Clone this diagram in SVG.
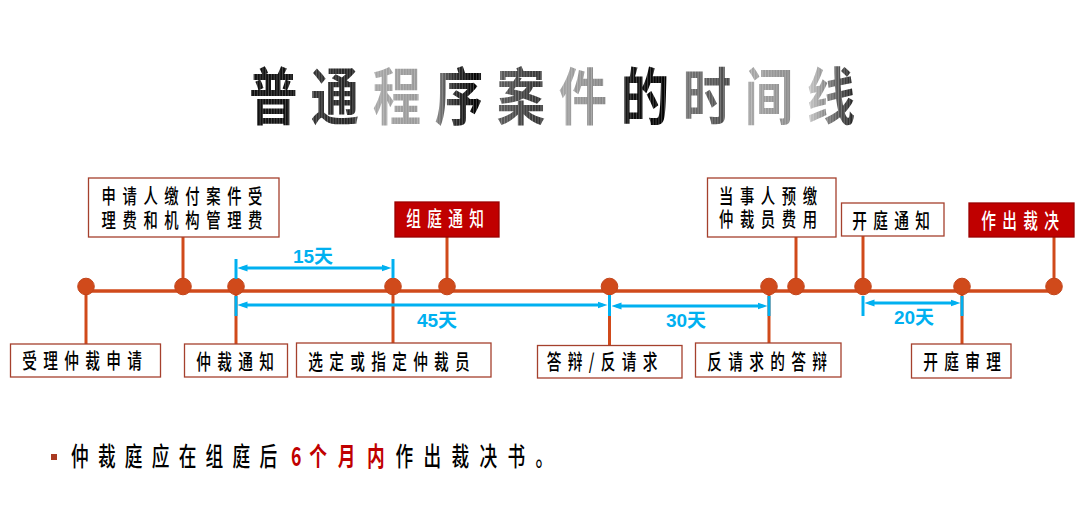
<svg xmlns="http://www.w3.org/2000/svg" width="1090" height="530" viewBox="0 0 1090 530">
<defs>
<linearGradient id="tg" x1="0" y1="0" x2="1" y2="0">
<stop offset="0" stop-color="#111"/><stop offset="0.1" stop-color="#111"/>
<stop offset="0.12" stop-color="#333"/><stop offset="0.18" stop-color="#222"/>
<stop offset="0.2" stop-color="#aaa"/><stop offset="0.28" stop-color="#999"/>
<stop offset="0.3" stop-color="#bbb"/><stop offset="0.34" stop-color="#333"/>
<stop offset="0.38" stop-color="#000"/><stop offset="0.4" stop-color="#666"/>
<stop offset="0.48" stop-color="#333"/><stop offset="0.5" stop-color="#aaa"/>
<stop offset="0.58" stop-color="#888"/><stop offset="0.6" stop-color="#999"/>
<stop offset="0.62" stop-color="#111"/><stop offset="0.69" stop-color="#000"/>
<stop offset="0.71" stop-color="#777"/><stop offset="0.79" stop-color="#444"/>
<stop offset="0.81" stop-color="#aaa"/><stop offset="0.89" stop-color="#888"/>
<stop offset="0.91" stop-color="#ccc"/><stop offset="0.96" stop-color="#555"/>
<stop offset="1" stop-color="#000"/>
</linearGradient>
<pattern id="st" patternUnits="userSpaceOnUse" width="3.6" height="100">
<rect x="0" y="0" width="1" height="100" fill="#fff" fill-opacity="0.3"/>
</pattern>
<pattern id="tp" patternUnits="userSpaceOnUse" x="-400" y="-80" width="800" height="100">
<rect x="0" y="0" width="800" height="100" fill="url(#tg)"/>
<rect x="0" y="0" width="800" height="100" fill="url(#st)"/>
</pattern>
<marker id="arr" viewBox="0 0 10 10" refX="5" refY="5" markerWidth="10" markerHeight="10" markerUnits="userSpaceOnUse" orient="auto-start-reverse">
<path d="M0,1.5 L10,5 L0,8.5 z" fill="#00B0F0"/>
</marker>
</defs>
<style>
.box{fill:#fff;stroke:#A5402D;stroke-width:1.3}
.rbox{fill:#C00000;stroke:#9A0000;stroke-width:1.3}
.lbl{font-family:"Noto Sans CJK SC","Noto Sans CJK TC",sans-serif;font-size:21px;font-weight:500;fill:#000;text-anchor:middle;letter-spacing:9px}
.lbl2{font-family:"Liberation Sans","Noto Sans CJK SC","Noto Sans CJK TC",sans-serif;font-size:20.5px;font-weight:500;fill:#000;text-anchor:middle;letter-spacing:9.4px}
.wl{fill:#fff}
.stem{stroke:#D04A1B;stroke-width:3;fill:none}
.main{stroke:#D04A1B;stroke-width:3.6;fill:none}
.dot{fill:#D04A1B;stroke:#C2441A;stroke-width:1}
.dim{stroke:#00B0F0;stroke-width:3;fill:none}
.tick{stroke:#00B0F0;stroke-width:3}
.dimt{font-family:"Liberation Sans","Noto Sans CJK SC",sans-serif;font-size:19px;font-weight:bold;fill:#00B0F0;text-anchor:middle}
.title{font-family:"Noto Sans CJK SC","Noto Sans CJK TC",sans-serif;font-size:62px;font-weight:bold;text-anchor:middle;letter-spacing:17.5px;fill:url(#tp)}
.note{font-family:"Noto Sans CJK SC","Noto Sans CJK TC",sans-serif;font-size:26px;font-weight:500;fill:#000}
</style>
<rect width="1090" height="530" fill="#fff"/>

<g id="title">
<text class="title" transform="translate(552,120) scale(0.78,1)" x="8.75" y="0">普通程序案件的时间线</text>
</g>

<g id="connectors">
<line class="main" x1="86" y1="291" x2="1054" y2="291"/>
<line class="stem" x1="86" y1="286.5" x2="86" y2="344"/>
<line class="stem" x1="183" y1="237" x2="183" y2="286.5"/>
<line class="stem" x1="236" y1="286.5" x2="236" y2="344"/>
<line class="stem" x1="393" y1="286.5" x2="393" y2="343"/>
<line class="stem" x1="447" y1="237" x2="447" y2="286.5"/>
<line class="stem" x1="609.5" y1="286.5" x2="609.5" y2="345.5"/>
<line class="stem" x1="769" y1="286.5" x2="769" y2="343"/>
<line class="stem" x1="796" y1="237" x2="796" y2="286.5"/>
<line class="stem" x1="863" y1="236" x2="863" y2="286.5"/>
<line class="stem" x1="962" y1="286.5" x2="962" y2="344"/>
<line class="stem" x1="1054" y1="237" x2="1054" y2="286.5"/>
<circle class="dot" cx="86" cy="286.5" r="8.3"/>
<circle class="dot" cx="183" cy="286.5" r="8.3"/>
<circle class="dot" cx="236" cy="286.5" r="8.3"/>
<circle class="dot" cx="393" cy="286.5" r="8.3"/>
<circle class="dot" cx="447" cy="286.5" r="8.3"/>
<circle class="dot" cx="609.5" cy="286.5" r="8.3"/>
<circle class="dot" cx="769" cy="286.5" r="8.3"/>
<circle class="dot" cx="796" cy="286.5" r="8.3"/>
<circle class="dot" cx="863" cy="286.5" r="8.3"/>
<circle class="dot" cx="962" cy="286.5" r="8.3"/>
<circle class="dot" cx="1054" cy="286.5" r="8.3"/>
</g>

<g id="durations">
<line class="tick" x1="236" y1="259" x2="236" y2="279"/>
<line class="tick" x1="393" y1="259" x2="393" y2="278"/>
<line class="dim" x1="242.5" y1="268" x2="386.5" y2="268" marker-start="url(#arr)" marker-end="url(#arr)"/>
<text class="dimt" x="313" y="263">15天</text>

<line class="tick" x1="236" y1="296" x2="236" y2="316"/>
<line class="tick" x1="609.5" y1="295" x2="609.5" y2="316"/>
<line class="dim" x1="242.5" y1="305" x2="602.5" y2="305" marker-start="url(#arr)" marker-end="url(#arr)"/>
<text class="dimt" x="437" y="327">45天</text>

<line class="tick" x1="769" y1="296" x2="769" y2="316"/>
<line class="dim" x1="616.5" y1="306" x2="762.5" y2="306" marker-start="url(#arr)" marker-end="url(#arr)"/>
<text class="dimt" x="686" y="327">30天</text>

<line class="tick" x1="863" y1="296" x2="863" y2="316"/>
<line class="tick" x1="962" y1="296" x2="962" y2="316"/>
<line class="dim" x1="869.5" y1="303" x2="955.5" y2="303" marker-start="url(#arr)" marker-end="url(#arr)"/>
<text class="dimt" x="914" y="324">20天</text>
</g>

<g id="node-accept">
<rect class="box" x="10.5" y="344" width="150" height="33"/>
<text class="lbl" transform="translate(82,368) scale(0.7,1)" x="4.5" y="0">受理仲裁申请</text>
</g>
<g id="node-fees">
<rect class="box" x="88.5" y="178" width="190.5" height="59"/>
<text class="lbl2" transform="translate(182,204.3) scale(0.7,1)" y="0"><tspan x="4.7">申请人缴付案件受</tspan><tspan x="4.7" dy="23.5">理费和机构管理费</tspan></text>
</g>
<g id="node-notice">
<rect class="box" x="184.5" y="344" width="103" height="33"/>
<text class="lbl" transform="translate(235,369) scale(0.7,1)" x="4.5" y="0">仲裁通知</text>
</g>
<g id="node-select">
<rect class="box" x="296.5" y="343" width="194.5" height="34"/>
<text class="lbl" transform="translate(389,368.5) scale(0.7,1)" x="4.5" y="0">选定或指定仲裁员</text>
</g>
<g id="node-tribunal">
<rect class="rbox" x="395" y="202" width="104" height="35"/>
<text class="lbl wl" transform="translate(445,226) scale(0.7,1)" x="4.5" y="0">组庭通知</text>
</g>
<g id="node-defence">
<rect class="box" x="537.5" y="345.5" width="144.5" height="32.5"/>
<text class="lbl" transform="translate(602,369) scale(0.7,1)" x="4.5" y="0">答辩/反请求</text>
</g>
<g id="node-counter">
<rect class="box" x="695.5" y="343" width="145.5" height="34"/>
<text class="lbl" transform="translate(767,369) scale(0.7,1)" x="4.5" y="0">反请求的答辩</text>
</g>
<g id="node-advance">
<rect class="box" x="707.5" y="178" width="128.5" height="59"/>
<text class="lbl2" transform="translate(768,204) scale(0.7,1)" y="0"><tspan x="4.7">当事人预缴</tspan><tspan x="4.7" dy="23.5">仲裁员费用</tspan></text>
</g>
<g id="node-hearing-notice">
<rect class="box" x="841.5" y="203" width="102.5" height="33"/>
<text class="lbl" transform="translate(891,227.5) scale(0.7,1)" x="4.5" y="0">开庭通知</text>
</g>
<g id="node-hearing">
<rect class="box" x="911.5" y="344" width="99.5" height="34"/>
<text class="lbl" transform="translate(962,369) scale(0.7,1)" x="4.5" y="0">开庭审理</text>
</g>
<g id="node-award">
<rect class="rbox" x="969" y="203" width="105" height="34"/>
<text class="lbl wl" transform="translate(1020,228) scale(0.7,1)" x="4.5" y="0">作出裁决</text>
</g>

<g id="note">
<rect x="51" y="454" width="6" height="6" fill="#A93A22"/>
<text class="note" transform="translate(0,466) scale(0.68,1)" y="0"><tspan x="104.4" letter-spacing="13.6">仲裁庭应在组庭后</tspan><tspan x="428 454.7 496.6 539.7" fill="#C00000" font-weight="bold">6个月内</tspan><tspan x="581.6" letter-spacing="15.2">作出裁决书。</tspan></text>
</g>
</svg>
